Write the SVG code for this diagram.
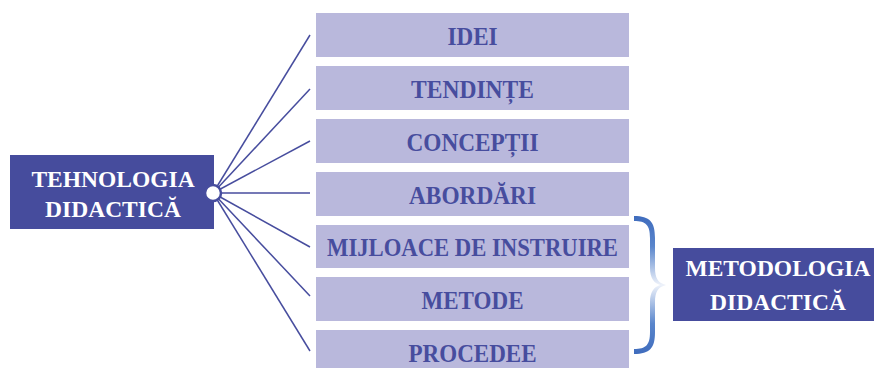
<svg xmlns="http://www.w3.org/2000/svg" width="874" height="368" viewBox="0 0 874 368">
<defs>
<style>
.dark{fill:#464c9d}
.light{fill:#b9b8dc}
.lt{font-family:"Liberation Serif",serif;font-weight:bold;font-size:25px;fill:#474d9e;text-anchor:middle}
.wt{font-family:"Liberation Serif",serif;font-weight:bold;font-size:23.5px;fill:#ffffff;text-anchor:middle}
.conn{stroke:#474d9e;stroke-width:1.5;fill:none}
</style>
<linearGradient id="brace" x1="0" y1="0" x2="0" y2="1">
<stop offset="0" stop-color="#3f6cbd"/>
<stop offset="0.22" stop-color="#5a86cc"/>
<stop offset="0.5" stop-color="#eef2fa"/>
<stop offset="0.78" stop-color="#5a86cc"/>
<stop offset="1" stop-color="#3f6cbd"/>
</linearGradient>
</defs>
<g id="connectors">
<line class="conn" x1="213" y1="193" x2="310" y2="35"/>
<line class="conn" x1="213" y1="193" x2="310" y2="89"/>
<line class="conn" x1="213" y1="193" x2="310" y2="141"/>
<line class="conn" x1="213" y1="193" x2="310" y2="193"/>
<line class="conn" x1="213" y1="193" x2="310" y2="247"/>
<line class="conn" x1="213" y1="193" x2="310" y2="296"/>
<line class="conn" x1="213" y1="193" x2="310" y2="351"/>
</g>
<g id="tehnologia">
<rect class="dark" x="10" y="155" width="204" height="74"/>
<text class="wt" x="113" y="187">TEHNOLOGIA</text>
<text class="wt" x="113" y="217">DIDACTICĂ</text>
<circle cx="213" cy="193" r="8" fill="#ffffff" stroke="#474d9e" stroke-width="2.5"/>
</g>
<g id="idei">
<rect class="light" x="316" y="13" width="313" height="44"/>
<text class="lt" x="472.5" y="45" textLength="50" lengthAdjust="spacingAndGlyphs">IDEI</text>
</g>
<g id="tendinte">
<rect class="light" x="316" y="66" width="313" height="44"/>
<text class="lt" x="472.5" y="98" textLength="123" lengthAdjust="spacingAndGlyphs">TENDINȚE</text>
</g>
<g id="conceptii">
<rect class="light" x="316" y="119" width="313" height="44"/>
<text class="lt" x="472.5" y="151" textLength="132" lengthAdjust="spacingAndGlyphs">CONCEPȚII</text>
</g>
<g id="abordari">
<rect class="light" x="316" y="172" width="313" height="44"/>
<text class="lt" x="472.5" y="204" textLength="127" lengthAdjust="spacingAndGlyphs">ABORDĂRI</text>
</g>
<g id="mijloace">
<rect class="light" x="316" y="225" width="313" height="43"/>
<text class="lt" x="472.5" y="256" textLength="291" lengthAdjust="spacingAndGlyphs">MIJLOACE DE INSTRUIRE</text>
</g>
<g id="metode">
<rect class="light" x="316" y="277" width="313" height="44"/>
<text class="lt" x="472.5" y="309" textLength="102" lengthAdjust="spacingAndGlyphs">METODE</text>
</g>
<g id="procedee">
<rect class="light" x="316" y="330" width="313" height="44"/>
<text class="lt" x="472.5" y="362" textLength="128" lengthAdjust="spacingAndGlyphs">PROCEDEE</text>
</g>
<g id="brace-group">
<path fill="url(#brace)" d="M634,216 C650,216 655,222 655,238 L655,268 C655,278 658,283 666,285 C658,287 655,292 655,302 L655,332 C655,348 650,354 634,354 L634,349 C646,349 650,345 650,332 L650,302 C650,292 654,287 660,285 C654,283 650,278 650,268 L650,238 C650,225 646,221 634,221 Z"/>
</g>
<g id="metodologia">
<rect class="dark" x="673" y="248" width="201" height="73"/>
<text class="wt" x="778" y="276">METODOLOGIA</text>
<text class="wt" x="778" y="310">DIDACTICĂ</text>
</g>
</svg>
